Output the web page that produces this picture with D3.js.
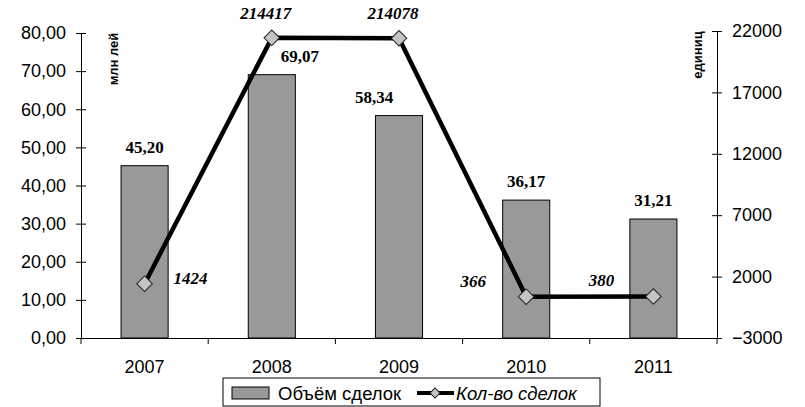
<!DOCTYPE html>
<html>
<head>
<meta charset="utf-8">
<script src="https://cdn.jsdelivr.net/npm/d3@7"></script>
<style>
  body { margin: 0; background: #fff; }
  svg { display: block; }
</style>
</head>
<body>
<svg id="svg"></svg>
<script>

// data
let years = ["2007", "2008", "2009", "2010", "2011"];
let volumes = [45.20, 69.07, 58.34, 36.17, 31.21];
let volumeLabels = ["45,20", "69,07", "58,34", "36,17", "31,21"];
let deals = [1424, 21441.7, 21407.8, 366, 380];
let dealLabels = ["1424", "214417", "214078", "366", "380"];
let leftTicks = [0, 10, 20, 30, 40, 50, 60, 70, 80];
let rightTicks = [-3000, 2000, 7000, 12000, 17000, 22000];

const width = 805;
const height = 407;

let svg = d3.select("#svg")
    .attr("width", width)
    .attr("height", height);

const margin = { top: 33, right: 88, bottom: 69, left: 81 };
let chartWidth = 717 - margin.left;
let chartHeight = 338 - margin.top;

let chart = svg.append("g")
    .attr("transform", "translate(" + margin.left + "," + margin.top + ")");

let xScale = d3.scaleBand()
    .domain(years)
    .range([0, chartWidth])
    .paddingInner(0.63)
    .paddingOuter(0.315);

let yLeft = d3.scaleLinear()
    .domain([0, 80])
    .range([chartHeight, 0]);

let yRight = d3.scaleLinear()
    .domain([-3000, 22000])
    .range([chartHeight, -2]);

const sans = "Arial, 'Liberation Sans', sans-serif";
const serif = "'Liberation Serif', 'Times New Roman', serif";

// bars
chart.selectAll(".bar")
    .data(years)
    .enter().append("rect")
    .attr("class", "bar")
    .attr("x", d => xScale(d))
    .attr("y", (d, i) => yLeft(volumes[i]))
    .attr("width", xScale.bandwidth())
    .attr("height", (d, i) => chartHeight - yLeft(volumes[i]))
    .attr("fill", "#999999")
    .attr("stroke", "#000")
    .attr("stroke-width", 1);

// bar labels (a couple are nudged aside of the line)
let barLabelShift = [0, 28, -25, 0, 0];
chart.selectAll(".bar-label")
    .data(years)
    .enter().append("text")
    .attr("class", "bar-label")
    .attr("x", (d, i) => xScale(d) + xScale.bandwidth() / 2 + barLabelShift[i])
    .attr("y", (d, i) => yLeft(volumes[i]) - 13)
    .attr("text-anchor", "middle")
    .style("font-family", serif)
    .style("font-weight", "bold")
    .style("font-size", "17px")
    .text((d, i) => volumeLabels[i]);

// axes
let leftAxis = d3.axisLeft(yLeft)
    .tickValues(leftTicks)
    .tickFormat(d => d3.format(".2f")(d).replace(".", ","))
    .tickSize(0);

let leftG = chart.append("g").call(leftAxis);
leftG.select(".domain").attr("stroke", "#000");
leftG.selectAll(".tick line").remove();
leftG.selectAll(".tick").append("line")
    .attr("x1", -5).attr("x2", 5).attr("stroke", "#000");
leftG.selectAll("text")
    .attr("x", -15)
    .style("font-family", sans)
    .style("font-size", "18px")
    .attr("fill", "#000");

let rightAxis = d3.axisRight(yRight)
    .tickValues(rightTicks)
    .tickSize(0)
    .tickFormat(d3.format("d"));

let rightG = chart.append("g")
    .attr("transform", `translate(${chartWidth},0)`)
    .call(rightAxis);
rightG.select(".domain").attr("stroke", "#000");
rightG.selectAll(".tick line").remove();
rightG.selectAll(".tick").append("line")
    .attr("x1", -5).attr("x2", 5).attr("stroke", "#000");
rightG.selectAll("text")
    .attr("x", 15)
    .style("font-family", sans)
    .style("font-size", "18px")
    .attr("fill", "#000");

let bottomAxis = d3.axisBottom(xScale).tickSize(0);
let bottomG = chart.append("g")
    .attr("transform", `translate(0,${chartHeight})`)
    .call(bottomAxis);
bottomG.select(".domain").attr("stroke", "#000");
bottomG.selectAll("text")
    .attr("dy", null)
    .attr("y", 35)
    .style("font-family", sans)
    .style("font-size", "18px")
    .attr("fill", "#000");

// tick marks between categories
let step = xScale.step();
bottomG.selectAll(".sep")
    .data(d3.range(years.length + 1))
    .enter().append("line")
    .attr("x1", d => d * step)
    .attr("x2", d => d * step)
    .attr("y1", 0)
    .attr("y2", 6)
    .attr("stroke", "#000");

// axis titles
svg.append("text")
    .attr("transform", "translate(118,59) rotate(-90)")
    .attr("text-anchor", "middle")
    .style("font-family", sans)
    .style("font-weight", "bold")
    .style("font-size", "13px")
    .text("млн лей");

svg.append("text")
    .attr("transform", "translate(702,55) rotate(-90)")
    .attr("text-anchor", "middle")
    .style("font-family", sans)
    .style("font-weight", "bold")
    .style("font-size", "13px")
    .text("единиц");

// line
let cx = d => xScale(d) + xScale.bandwidth() / 2;
let line = d3.line()
    .x(d => cx(d))
    .y((d, i) => yRight(deals[i]));

chart.append("path")
    .datum(years)
    .attr("d", line)
    .attr("fill", "none")
    .attr("stroke", "#000")
    .attr("stroke-width", 4.5)
    .attr("stroke-linejoin", "round");

let diamond = d3.symbol().type(d3.symbolSquare).size(121);
chart.selectAll(".marker")
    .data(years)
    .enter().append("path")
    .attr("class", "marker")
    .attr("d", diamond)
    .attr("transform", (d, i) => `translate(${cx(d)},${yRight(deals[i])}) rotate(45)`)
    .attr("fill", "#c4c4c4")
    .attr("stroke", "#222")
    .attr("stroke-width", 1);

// line labels
let dealLabelDx = [46, -6, -6, -53, -52];
let dealLabelDy = [0, -19, -19, -10, -10];
chart.selectAll(".deal-label")
    .data(years)
    .enter().append("text")
    .attr("class", "deal-label")
    .attr("x", (d, i) => cx(d) + dealLabelDx[i])
    .attr("y", (d, i) => yRight(deals[i]) + dealLabelDy[i])
    .attr("text-anchor", "middle")
    .style("font-family", serif)
    .style("font-weight", "bold")
    .style("font-style", "italic")
    .style("font-size", "17px")
    .text((d, i) => dealLabels[i]);

// legend
let legend = svg.append("g").attr("transform", "translate(223,378)");
legend.append("rect")
    .attr("x", 0).attr("y", 0)
    .attr("width", 377).attr("height", 28)
    .attr("fill", "#fff")
    .attr("stroke", "#000");
legend.append("rect")
    .attr("x", 9).attr("y", 9)
    .attr("width", 37).attr("height", 12)
    .attr("fill", "#999999")
    .attr("stroke", "#000");
legend.append("text")
    .attr("x", 55).attr("y", 22)
    .style("font-family", sans)
    .style("font-size", "18.5px")
    .text("Объём сделок");
legend.append("line")
    .attr("x1", 194).attr("x2", 231)
    .attr("y1", 15).attr("y2", 15)
    .attr("stroke", "#000")
    .attr("stroke-width", 4);
legend.append("path")
    .attr("d", d3.symbol().type(d3.symbolSquare).size(50))
    .attr("transform", "translate(212,15) rotate(45)")
    .attr("fill", "#c4c4c4")
    .attr("stroke", "#222");
legend.append("text")
    .attr("x", 233).attr("y", 22)
    .style("font-family", sans)
    .style("font-size", "18.5px")
    .style("font-style", "italic")
    .text("Кол-во сделок");

</script>
</body>
</html>
